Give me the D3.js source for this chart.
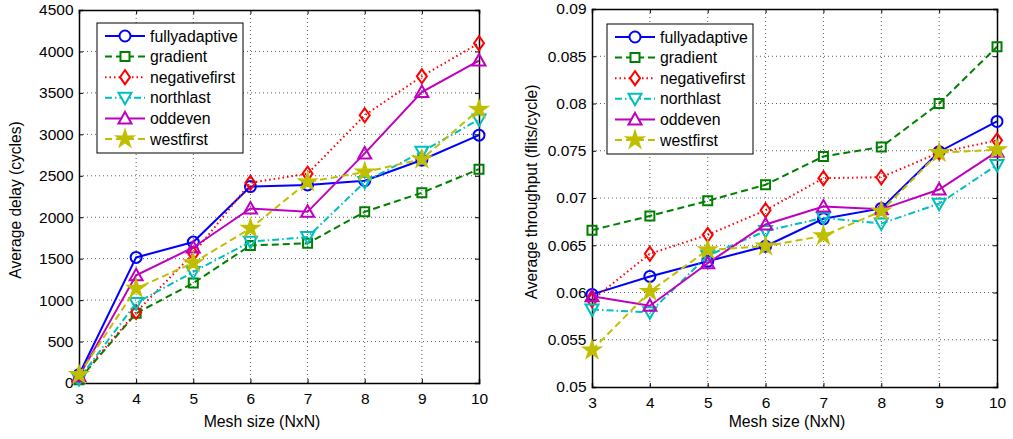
<!DOCTYPE html>
<html><head><meta charset="utf-8">
<script src="https://cdn.jsdelivr.net/npm/d3@7"></script>
<style>
body{margin:0;background:#fff;}
text{font-family:"Liberation Sans",Arial,sans-serif;fill:#000;}
</style></head>
<body><svg id="c" width="1013" height="439"></svg>
<script>
const meshSizes = [3,4,5,6,7,8,9,10];
const seriesNames = ["fullyadaptive","gradient","negativefirst","northlast","oddeven","westfirst"];
// Average delay (cycles)
const delayFully   = [100, 1515, 1700, 2370, 2390, 2440, 2690, 2990];
const delayGrad    = [40, 840, 1205, 1660, 1685, 2065, 2295, 2580];
const delayNeg     = [60, 855, 1560, 2415, 2525, 3230, 3700, 4100];
const delayNorth   = [50, 965, 1340, 1705, 1760, 2425, 2790, 3180];
const delayOdd     = [80, 1300, 1635, 2105, 2065, 2770, 3510, 3890];
const delayWest    = [100, 1140, 1450, 1865, 2425, 2545, 2700, 3300];
// Average throughput (flits/cycle)
const thrFully  = [0.0598, 0.0617, 0.0633, 0.0649, 0.0678, 0.0689, 0.0749, 0.0781];
const thrGrad   = [0.0666, 0.0681, 0.0697, 0.0714, 0.0744, 0.0754, 0.0800, 0.0860];
const thrNeg    = [0.0592, 0.0641, 0.0661, 0.0687, 0.0721, 0.0722, 0.0748, 0.0761];
const thrNorth  = [0.0582, 0.0579, 0.0639, 0.0665, 0.0679, 0.0673, 0.0694, 0.0735];
const thrOdd    = [0.0596, 0.0586, 0.0631, 0.0672, 0.0691, 0.0688, 0.0709, 0.0749];
const thrWest   = [0.0539, 0.0601, 0.0645, 0.0649, 0.0660, 0.0686, 0.0748, 0.0751];
const delayTicks = [0,500,1000,1500,2000,2500,3000,3500,4000,4500];
const thrTicks = [0.05,0.055,0.06,0.065,0.07,0.075,0.08,0.085,0.09];

const colors = ["#0000ff","#008000","#ff0000","#00bfbf","#bf00bf","#bfbf00"];
const dashes = [null,"7,4","1.5,3","7,3,1.5,3",null,"7,4"];
const markers = ["circle","square","diamond","tridown","triup","star"];

function markerPath(type){
  switch(type){
    case "circle": return d3.symbol(d3.symbolCircle, Math.PI*5.5*5.5)();
    case "square": return "M-4.5,-4.5L4.5,-4.5L4.5,4.5L-4.5,4.5Z";
    case "diamond": return "M0,-7L5,0L0,7L-5,0Z";
    case "tridown": return "M-6.5,-5L6.5,-5L0,6.5Z";
    case "triup": return "M0,-6.5L6.5,5L-6.5,5Z";
    case "star": {
      let p=[];
      for(let i=0;i<10;i++){const r=i%2?3.2:8.5;const a=-Math.PI/2+i*Math.PI/5;p.push([r*Math.cos(a),r*Math.sin(a)]);}
      return "M"+p.map(d=>d.join(",")).join("L")+"Z";
    }
  }
}

const svg = d3.select("#c");

function panel(cfg){
  const g = svg.append("g");
  const x = d3.scaleLinear().domain([3,10]).range([cfg.left,cfg.right]);
  const y = d3.scaleLinear().domain(cfg.domain).range([cfg.bottom,cfg.top]);
  // grid
  g.append("g").selectAll("line").data(meshSizes.slice(1,-1)).join("line")
    .attr("x1",d=>x(d)).attr("x2",d=>x(d)).attr("y1",cfg.top).attr("y2",cfg.bottom)
    .attr("stroke","#333").attr("stroke-width",0.8).attr("stroke-dasharray","1,3");
  g.append("g").selectAll("line").data(cfg.ticks.slice(1,-1)).join("line")
    .attr("y1",d=>y(d)).attr("y2",d=>y(d)).attr("x1",cfg.left).attr("x2",cfg.right)
    .attr("stroke","#333").attr("stroke-width",0.8).attr("stroke-dasharray","1,3");
  // axes
  const xa = g.append("g").attr("transform",`translate(0,${cfg.bottom})`)
    .call(d3.axisBottom(x).tickValues(meshSizes).tickFormat(d3.format("d")).tickSize(-4).tickPadding(10));
  const xt = g.append("g").attr("transform",`translate(0,${cfg.top})`)
    .call(d3.axisTop(x).tickValues(meshSizes).tickFormat("").tickSize(-4));
  const ya = g.append("g").attr("transform",`translate(${cfg.left},0)`)
    .call(d3.axisLeft(y).tickValues(cfg.ticks).tickFormat(cfg.fmt).tickSize(-4).tickPadding(5.5));
  const yr = g.append("g").attr("transform",`translate(${cfg.right},0)`)
    .call(d3.axisRight(y).tickValues(cfg.ticks).tickFormat("").tickSize(-4));
  [xa,xt,ya,yr].forEach(a=>{a.select(".domain").attr("stroke","#000").attr("stroke-width",1.5);
    a.selectAll(".tick line").attr("stroke","#000");
    a.selectAll("text").attr("font-size",15.5).attr("fill","#000").attr("font-family","Liberation Sans, Arial, sans-serif");});
  // labels
  g.append("text").attr("x",cfg.xlabX).attr("y",427).attr("text-anchor","middle")
    .attr("font-size",15.8).text("Mesh size (NxN)");
  g.append("text").attr("transform",`translate(${cfg.ylabX},${cfg.ylabY}) rotate(-90)`)
    .attr("text-anchor","middle").attr("font-size",15.6).text(cfg.ylabel);
  // series
  const line = d3.line().x((d,i)=>x(meshSizes[i])).y(d=>y(d));
  cfg.data.forEach((vals,k)=>{
    g.append("path").attr("d",line(vals)).attr("fill","none").attr("stroke",colors[k])
      .attr("stroke-width",2).attr("stroke-dasharray",dashes[k]);
    g.append("g").selectAll("path").data(vals).join("path")
      .attr("transform",(d,i)=>`translate(${x(meshSizes[i])},${y(d)})`)
      .attr("d",markerPath(markers[k]))
      .attr("fill",markers[k]==="star"?colors[k]:"none").attr("stroke",colors[k]).attr("stroke-width",2);
  });
  // legend
  const lg = g.append("g");
  lg.append("rect").attr("x",cfg.lx).attr("y",cfg.ly).attr("width",146).attr("height",130)
    .attr("fill","#fff").attr("stroke","#000").attr("stroke-width",1);
  seriesNames.forEach((n,k)=>{
    const yy = cfg.ly+13+k*20.6;
    lg.append("line").attr("x1",cfg.lx+8).attr("x2",cfg.lx+48).attr("y1",yy).attr("y2",yy)
      .attr("stroke",colors[k]).attr("stroke-width",2).attr("stroke-dasharray",dashes[k]);
    lg.append("path").attr("transform",`translate(${cfg.lx+28},${yy})`).attr("d",markerPath(markers[k]))
      .attr("fill",markers[k]==="star"?colors[k]:"#fff").attr("stroke",colors[k]).attr("stroke-width",2);
    lg.append("text").attr("x",cfg.lx+53).attr("y",yy+5.5).attr("font-size",15.8).text(n);
  });
}

panel({left:79,right:479,top:10,bottom:383,domain:[0,4500],ticks:delayTicks,fmt:d3.format("d"),
  ylabel:"Average delay (cycles)",ylabX:21,ylabY:200,xlabX:262,lx:97,ly:23,
  data:[delayFully,delayGrad,delayNeg,delayNorth,delayOdd,delayWest]});
panel({left:592,right:997,top:9,bottom:387,domain:[0.05,0.09],ticks:thrTicks,fmt:d=>String(+d.toFixed(3)),
  ylabel:"Average throughput (flits/cycle)",ylabX:537,ylabY:192,xlabX:787,lx:607,ly:24,
  data:[thrFully,thrGrad,thrNeg,thrNorth,thrOdd,thrWest]});
</script></body></html>
